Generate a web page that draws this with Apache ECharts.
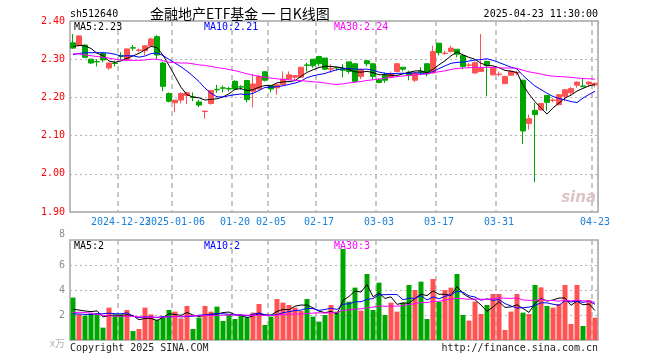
<!DOCTYPE html>
<html>
<head>
<meta charset="utf-8">
<script src="https://cdn.jsdelivr.net/npm/echarts@6/dist/echarts.min.js"></script>
<style>html,body{margin:0;padding:0;background:#fff;}#c{width:660px;height:360px;}</style>
</head>
<body>
<div id="c"></div>
<script>
const dates = [
'2024-12-11','2024-12-12','2024-12-13','2024-12-16','2024-12-17','2024-12-18','2024-12-19','2024-12-20','2024-12-23','2024-12-24',
'2024-12-25','2024-12-26','2024-12-27','2024-12-30','2024-12-31','2025-01-02','2025-01-03','2025-01-06','2025-01-07','2025-01-08',
'2025-01-09','2025-01-10','2025-01-13','2025-01-14','2025-01-15','2025-01-16','2025-01-17','2025-01-20','2025-01-21','2025-01-22',
'2025-01-23','2025-01-24','2025-01-27','2025-02-05','2025-02-06','2025-02-07','2025-02-10','2025-02-11','2025-02-12','2025-02-13',
'2025-02-14','2025-02-17','2025-02-18','2025-02-19','2025-02-20','2025-02-21','2025-02-24','2025-02-25','2025-02-26','2025-02-27',
'2025-02-28','2025-03-03','2025-03-04','2025-03-05','2025-03-06','2025-03-07','2025-03-10','2025-03-11','2025-03-12','2025-03-13',
'2025-03-14','2025-03-17','2025-03-18','2025-03-19','2025-03-20','2025-03-21','2025-03-24','2025-03-25','2025-03-26','2025-03-27',
'2025-03-28','2025-03-31','2025-04-01','2025-04-02','2025-04-03','2025-04-07','2025-04-08','2025-04-09','2025-04-10','2025-04-11',
'2025-04-14','2025-04-15','2025-04-16','2025-04-17','2025-04-18','2025-04-21','2025-04-22','2025-04-23'];

const opens = [
2.343,2.337,2.337,2.300,2.294,2.315,2.277,2.290,2.309,2.299,
2.330,2.323,2.322,2.335,2.359,2.290,2.210,2.186,2.193,2.205,
2.201,2.188,2.163,2.184,2.221,2.225,2.223,2.242,2.228,2.244,
2.216,2.222,2.267,2.231,2.225,2.233,2.248,2.253,2.253,2.285,
2.300,2.307,2.303,2.274,2.278,2.275,2.293,2.288,2.255,2.296,
2.288,2.246,2.258,2.253,2.268,2.279,2.266,2.245,2.268,2.288,
2.264,2.342,2.315,2.320,2.326,2.310,2.284,2.264,2.268,2.294,
2.259,2.260,2.236,2.258,2.264,2.245,2.132,2.166,2.167,2.205,
2.192,2.181,2.203,2.212,2.232,2.230,2.235,2.233];
const closes = [
2.329,2.361,2.305,2.290,2.293,2.298,2.290,2.289,2.308,2.327,
2.329,2.324,2.335,2.353,2.311,2.229,2.190,2.193,2.210,2.212,
2.200,2.180,2.164,2.218,2.220,2.224,2.222,2.222,2.227,2.194,
2.235,2.255,2.245,2.222,2.233,2.248,2.259,2.257,2.279,2.284,
2.283,2.288,2.274,2.276,2.277,2.271,2.268,2.242,2.272,2.288,
2.255,2.239,2.245,2.262,2.288,2.274,2.258,2.264,2.264,2.262,
2.320,2.317,2.316,2.329,2.313,2.281,2.285,2.291,2.277,2.283,
2.277,2.261,2.255,2.268,2.265,2.112,2.144,2.155,2.184,2.187,
2.193,2.207,2.220,2.223,2.240,2.228,2.240,2.237];
const lows = [
2.327,2.333,2.303,2.288,2.281,2.292,2.272,2.281,2.298,2.298,
2.322,2.318,2.311,2.334,2.300,2.216,2.187,2.161,2.184,2.183,
2.190,2.175,2.144,2.181,2.212,2.213,2.215,2.220,2.220,2.187,
2.174,2.220,2.242,2.213,2.207,2.231,2.247,2.245,2.251,2.268,
2.277,2.281,2.272,2.264,2.270,2.252,2.262,2.238,2.248,2.281,
2.246,2.237,2.238,2.250,2.266,2.268,2.245,2.240,2.258,2.255,
2.262,2.310,2.311,2.318,2.305,2.274,2.277,2.262,2.268,2.203,
2.257,2.255,2.236,2.258,2.258,2.078,2.116,1.978,2.166,2.164,
2.187,2.179,2.190,2.207,2.225,2.227,2.229,2.227];
const highs = [
2.366,2.362,2.338,2.301,2.300,2.318,2.291,2.296,2.318,2.328,
2.337,2.328,2.337,2.356,2.363,2.293,2.213,2.193,2.213,2.215,
2.213,2.194,2.166,2.219,2.233,2.231,2.228,2.245,2.232,2.246,
2.261,2.259,2.268,2.233,2.236,2.268,2.268,2.257,2.279,2.291,
2.300,2.309,2.303,2.287,2.280,2.287,2.293,2.290,2.275,2.296,
2.290,2.250,2.265,2.268,2.290,2.279,2.270,2.266,2.279,2.290,
2.335,2.342,2.322,2.335,2.326,2.310,2.290,2.294,2.366,2.294,
2.279,2.268,2.255,2.271,2.270,2.246,2.155,2.186,2.184,2.205,
2.198,2.207,2.222,2.227,2.242,2.251,2.242,2.239];

const volumes = [
3.39,2.05,1.95,2.13,2.13,0.99,2.59,2.05,2.05,2.40,
0.72,0.88,2.59,2.05,1.60,1.87,2.40,2.27,1.73,2.72,
0.88,1.79,2.72,2.27,2.67,1.52,2.00,1.68,1.95,1.79,
2.19,2.88,1.20,1.87,3.28,2.99,2.80,2.59,2.32,3.28,
1.87,1.47,2.00,2.80,2.27,7.28,3.07,4.19,2.35,5.28,
2.40,4.59,2.00,2.99,2.27,2.99,4.40,4.00,4.67,1.68,
4.88,3.07,4.00,4.19,5.28,2.00,1.55,3.07,2.08,2.80,
3.68,3.68,0.80,2.27,3.68,2.19,2.08,4.40,4.21,2.72,
2.59,2.88,4.40,1.28,4.40,1.12,3.20,1.79];

const priceMA5Head = [2.333,2.336,2.335,2.328];
const priceMA10Head = [2.312,2.315,2.317,2.317,2.317,2.317,2.316,2.313,2.308];
const priceMA30Head = [2.314,2.314,2.311,2.309,2.307,2.305,2.303,2.300,2.298,2.297,
2.297,2.297,2.298,2.300,2.300,2.296,2.292,2.291,2.290,2.290,
2.288,2.285,2.284,2.281,2.278,2.276,2.273,2.270,2.266];
const volMA5Head = [2.45,2.40,2.32,2.27];
const volMA10Head = [2.10,2.08,2.05,2.05,2.10,2.10,2.15,2.10,2.10];
const volMA30Head = [2.20,2.22,2.20,2.15,2.05,1.98,1.93,1.92,1.90,1.90,
1.88,1.85,1.83,1.82,1.82,1.83,1.85,1.87,1.90,1.92,
1.93,1.95,1.95,1.96,1.97,1.98,2.00,2.00,2.00];

const tickDates = ['2024-12-23','2025-01-06','2025-01-20','2025-02-05','2025-02-17','2025-03-03','2025-03-17','2025-03-31','2025-04-23'];
const tickLabels = ['2024-12-23','2025-01-06','01-20','02-05','02-17','03-03','03-17','03-31','04-23'];

const titleCode = 'sh512640';
const titleName = '金融地产ETF基金 一 日K线图';
const titleTime = '2025-04-23 11:30:00';
const priceLegend = ['MA5:2.23','MA10:2.21','MA30:2.24'];
const volLegend = ['MA5:2','MA10:2','MA30:3'];

function movingAverage(vals, n, head) {
  return vals.map((v, i) => {
    if (i < n - 1) return head[i];
    let s = 0;
    for (let j = i - n + 1; j <= i; j++) s += vals[j];
    return +(s / n).toFixed(4);
  });
}

const RED = '#ff5252';
const GREEN = '#00a600';
const MONO = '"DejaVu Sans Mono", "Liberation Mono", monospace';
const GRIDC = '#b4b4b4';

const tickIdx = tickDates.map(d => dates.indexOf(d));

const candleData = dates.map((d, i) => [opens[i], closes[i], lows[i], highs[i]]);
const volData = volumes.map((v, i) => ({
  value: v,
  itemStyle: { color: closes[i] >= opens[i] ? RED : GREEN }
}));

function txt(text, x, y, fill, font, align) {
  return { type: 'text', x: x, y: y, silent: true, z: 100,
    style: { text: text, fill: fill, font: font, align: align || 'left', verticalAlign: 'middle' } };
}

const chart = echarts.init(document.getElementById('c'), null, { renderer: 'canvas' });

const xBase = (gi, showLabels) => ({
  type: 'category', gridIndex: gi, data: dates, boundaryGap: true,
  axisLine: { show: false }, axisTick: { show: false },
  axisLabel: showLabels ? {
    interval: 0, margin: 5, color: '#1a80dc', fontSize: 10, fontFamily: MONO,
    formatter: (val) => { const k = tickDates.indexOf(val); return k >= 0 ? tickLabels[k] : ''; }
  } : { show: false },
  splitLine: { show: true, interval: (idx) => tickIdx.indexOf(idx) >= 0,
    lineStyle: { color: GRIDC, type: [5, 4], width: 1.5 } }
});

const lineS = (name, data, color, xi, yi) => ({
  name: name, type: 'line', data: data, xAxisIndex: xi, yAxisIndex: yi,
  showSymbol: false, symbol: 'none', smooth: false, silent: true,
  lineStyle: { color: color, width: 1 }, z: 5
});

chart.setOption({
  animation: false,
  backgroundColor: '#fff',
  grid: [
    { left: 70, top: 21, width: 528, height: 191, show: true, borderColor: '#a6a6a6', borderWidth: 1.5 },
    { left: 70, top: 240, width: 528, height: 100, show: true, borderColor: '#a6a6a6', borderWidth: 1.5 }
  ],
  xAxis: [xBase(0, true), xBase(1, false)],
  yAxis: [
    { type: 'value', gridIndex: 0, min: 1.9, max: 2.4, interval: 0.1, scale: true,
      axisLine: { show: false }, axisTick: { show: false },
      axisLabel: { color: '#ff0000', fontSize: 10, fontFamily: MONO, margin: 5, formatter: v => v.toFixed(2) },
      splitLine: { lineStyle: { color: GRIDC, type: [2, 3], width: 1 } } },
    { type: 'value', gridIndex: 1, min: 0, max: 8, interval: 2,
      axisLine: { show: false }, axisTick: { show: false },
      axisLabel: { color: '#8c8c8c', fontSize: 10, fontFamily: MONO, margin: 5,
        formatter: v => (v === 0 || v === 8) ? '' : String(v) },
      splitLine: { lineStyle: { color: GRIDC, type: [2, 3], width: 1 } } }
  ],
  series: [
    { type: 'candlestick', xAxisIndex: 0, yAxisIndex: 0, data: candleData, barWidth: 5, silent: true,
      itemStyle: { color: RED, color0: GREEN, borderColor: RED, borderColor0: GREEN, borderWidth: 1 } },
    lineS('MA5', movingAverage(closes, 5, priceMA5Head), '#000000', 0, 0),
    lineS('MA10', movingAverage(closes, 10, priceMA10Head), '#0000ff', 0, 0),
    lineS('MA30', movingAverage(closes, 30, priceMA30Head), '#ff00ff', 0, 0),
    { type: 'bar', xAxisIndex: 1, yAxisIndex: 1, data: volData, barWidth: 5, silent: true },
    lineS('VMA5', movingAverage(volumes, 5, volMA5Head), '#000000', 1, 1),
    lineS('VMA10', movingAverage(volumes, 10, volMA10Head), '#0000ff', 1, 1),
    lineS('VMA30', movingAverage(volumes, 30, volMA30Head), '#ff00ff', 1, 1)
  ],
  graphic: [
    txt(titleCode, 70, 14, '#000', '10px ' + MONO),
    txt(titleName, 150, 14, '#000', '14px "Noto Sans CJK SC"'),
    txt(titleTime, 598, 14, '#000', '10px ' + MONO, 'right'),
    txt(priceLegend[0], 74, 27, '#000', '10px ' + MONO),
    txt(priceLegend[1], 204, 27, '#0000ff', '10px ' + MONO),
    txt(priceLegend[2], 334, 27, '#ff00ff', '10px ' + MONO),
    txt(volLegend[0], 74, 246, '#000', '10px ' + MONO),
    txt(volLegend[1], 204, 246, '#0000ff', '10px ' + MONO),
    txt(volLegend[2], 334, 246, '#ff00ff', '10px ' + MONO),
    txt('8', 65, 234, '#8c8c8c', '10px ' + MONO, 'right'),
    txt('x万', 65, 343, '#b0b0b0', '10px "Noto Sans CJK SC"', 'right'),
    txt('Copyright 2025 SINA.COM', 70, 348, '#222', '10px ' + MONO),
    txt('http://finance.sina.com.cn', 598, 348, '#222', '10px ' + MONO, 'right'),
    txt('sina', 596, 198, '#dcc4c4', 'italic bold 15px "DejaVu Sans"', 'right')
  ]
});
</script>
</body>
</html>
